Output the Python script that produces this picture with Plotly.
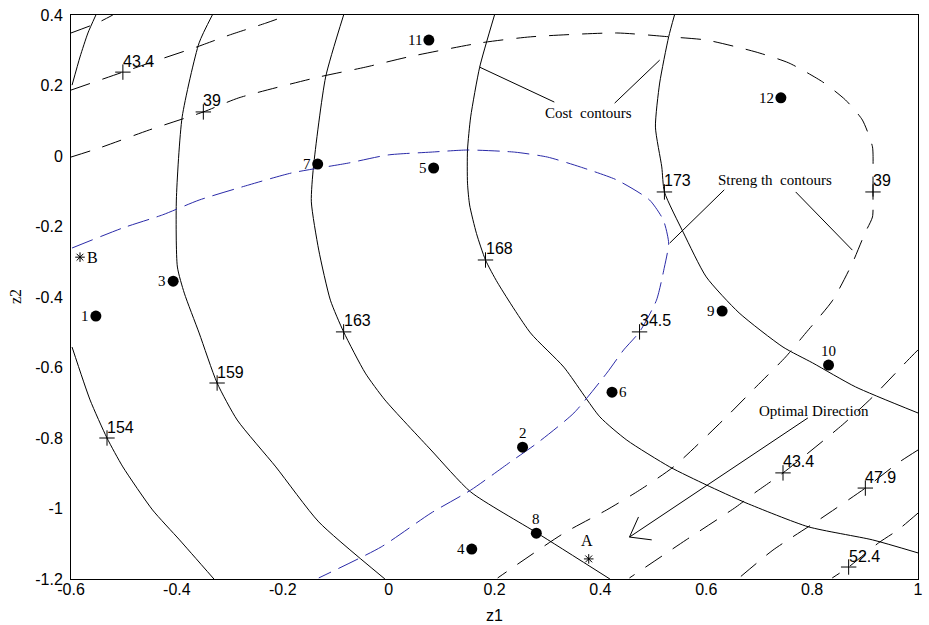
import plotly.graph_objects as go

# ---- cost contours (solid) ----
cost_top_x = [-0.598, -0.583, -0.568, -0.553]
cost_top_y = [0.201, 0.281, 0.349, 0.400]

cost_154_x = [-0.598, -0.564, -0.532, -0.502, -0.446, -0.395, -0.330]
cost_154_y = [-0.542, -0.692, -0.800, -0.882, -1.004, -1.089, -1.200]

cost_159_x = [-0.333, -0.358, -0.390, -0.401, -0.399, -0.386, -0.358, -0.324, -0.286, -0.213, -0.132, -0.007]
cost_159_y = [0.400, 0.321, 0.111, -0.125, -0.315, -0.389, -0.502, -0.644, -0.749, -0.882, -1.038, -1.200]

cost_163_x = [-0.085, -0.119, -0.142, -0.146, -0.132, -0.110, -0.085, -0.044, -0.007, 0.080, 0.155, 0.281, 0.418]
cost_163_y = [0.400, 0.224, -0.031, -0.130, -0.267, -0.409, -0.499, -0.616, -0.692, -0.834, -0.953, -1.070, -1.200]

cost_168_x = [0.200, 0.172, 0.155, 0.149, 0.149, 0.153, 0.166, 0.183, 0.206, 0.268, 0.331, 0.399, 0.450,
              0.531, 0.600, 0.675, 0.793, 0.914, 1.000]
cost_168_y = [0.400, 0.252, 0.111, 0.017, -0.077, -0.139, -0.220, -0.295, -0.360, -0.502, -0.599, -0.740, -0.806,
              -0.882, -0.933, -0.984, -1.052, -1.089, -1.126]

cost_173_x = [0.540, 0.529, 0.512, 0.504, 0.516, 0.521, 0.557, 0.600, 0.662, 0.745, 0.801, 0.882, 1.000]
cost_173_y = [0.400, 0.338, 0.207, 0.082, -0.031, -0.102, -0.218, -0.343, -0.445, -0.542, -0.587, -0.655, -0.729]

# ---- strength contours (dashed) ----
str_479a_x = [-0.600, -0.551, -0.521]
str_479a_y = [0.349, 0.377, 0.400]

str_434a_x = [-0.600, -0.502, -0.446, -0.363, -0.301, -0.232, -0.189]
str_434a_y = [0.187, 0.238, 0.267, 0.309, 0.343, 0.377, 0.400]

str_39_x = [-0.600, -0.546, -0.452, -0.350, -0.283, -0.132, -0.044, 0.037, 0.174, 0.268, 0.431, 0.531,
            0.600, 0.694, 0.756, 0.820, 0.863, 0.895, 0.914, 0.915, 0.915, 0.914, 0.900, 0.876, 0.839,
            0.788, 0.750, 0.694, 0.632, 0.538, 0.474, 0.412, 0.331, 0.206]
str_39_y = [-0.003, 0.023, 0.074, 0.125, 0.165, 0.224, 0.252, 0.281, 0.321, 0.338, 0.349, 0.338,
            0.329, 0.295, 0.264, 0.210, 0.159, 0.102, 0.026, -0.048, -0.102, -0.173, -0.218, -0.304, -0.409,
            -0.502, -0.570, -0.655, -0.749, -0.882, -0.948, -1.004, -1.070, -1.197]

str_345_x = [-0.598, -0.502, -0.427, -0.358, -0.264, -0.183, -0.076, -0.001, 0.080, 0.149, 0.238, 0.300,
             0.362, 0.431, 0.493, 0.519, 0.529, 0.521, 0.506, 0.474, 0.444, 0.412, 0.350, 0.281, 0.230,
             0.155, 0.080, -0.014, -0.132]
str_345_y = [-0.261, -0.204, -0.167, -0.125, -0.082, -0.048, -0.020, 0.003, 0.011, 0.017, 0.011, -0.003,
             -0.031, -0.068, -0.125, -0.182, -0.247, -0.315, -0.409, -0.499, -0.550, -0.616, -0.729, -0.814, -0.868,
             -0.948, -1.013, -1.109, -1.197]

str_434b_x = [1.000, 0.981, 0.914, 0.857, 0.745, 0.694, 0.656, 0.562, 0.455]
str_434b_y = [-0.550, -0.579, -0.684, -0.763, -0.899, -0.953, -0.996, -1.089, -1.197]

str_479b_x = [1.000, 0.962, 0.9005, 0.812, 0.726, 0.662]
str_479b_y = [-0.834, -0.871, -0.942, -1.033, -1.118, -1.197]

str_524_x = [1.000, 0.962, 0.925, 0.869, 0.838]
str_524_y = [-1.013, -1.061, -1.098, -1.166, -1.197]

# ---- contour level labels ----
lvl_text = ["43.4", "39", "154", "159", "163", "168", "173", "39", "34.5", "43.4", "47.9", "52.4"]
lvl_x = [-0.502, -0.350, -0.532, -0.324, -0.085, 0.183, 0.521, 0.915, 0.474, 0.745, 0.9005, 0.869]
lvl_y = [0.238, 0.125, -0.800, -0.644, -0.499, -0.295, -0.102, -0.102, -0.499, -0.899, -0.942, -1.166]

# ---- design points ----
pt_label = ["1", "2", "3", "4", "5", "6", "7", "8", "9", "10", "11", "12"]
pt_x = [-0.553, 0.253, -0.407, 0.157, 0.085, 0.422, -0.134, 0.279, 0.630, 0.831, 0.076, 0.741]
pt_y = [-0.454, -0.826, -0.355, -1.115, -0.034, -0.670, -0.023, -1.070, -0.440, -0.593, 0.329, 0.165]
pt_side = ["left", "top", "left", "left", "left", "right", "left", "top", "left", "top", "left", "left"]

star_label = ["A", "B"]
star_x = [0.378, -0.583]
star_y = [-1.143, -0.287]

# ---- callouts ----
cost_lead1_x, cost_lead1_y = [0.172, 0.313], [0.252, 0.153]
cost_lead2_x, cost_lead2_y = [0.427, 0.512], [0.150, 0.272]
str_lead1_x, str_lead1_y = [0.634, 0.531], [-0.096, -0.247]
str_lead2_x, str_lead2_y = [0.769, 0.876], [-0.102, -0.267]
arrow_x = [0.792, 0.455]
arrow_y = [-0.743, -1.081]
head_x = [0.472, 0.455, 0.497]
head_y = [-1.024, -1.081, -1.089]

callout_text = ["Cost  contours", "Streng th  contours", "Optimal Direction"]
callout_x = [0.378, 0.730, 0.803]
callout_y = [0.122, -0.068, -0.723]

x_ticks = [-0.6, -0.4, -0.2, 0, 0.2, 0.4, 0.6, 0.8, 1.0]
x_ticktext = ["-0.6", "-0.4", "-0.2", "0", "0.2", "0.4", "0.6", "0.8", "1"]
y_ticks = [0.4, 0.2, 0, -0.2, -0.4, -0.6, -0.8, -1.0, -1.2]
y_ticktext = ["0.4", "0.2", "0", "-0.2", "-0.4", "-0.6", "-0.8", "-1", "-1.2"]

SANS = "Liberation Sans, Arial, sans-serif"
SERIF = "Liberation Serif, Times New Roman, serif"
BLACK_DASH = "20px,13px"
BLUE_DASH = "22px,8px"

fig = go.Figure()


def curve(xs, ys, color="black", dash="solid", shape="spline"):
    line = dict(color=color, width=1, dash=dash, shape=shape)
    if shape == "spline":
        line["smoothing"] = 0.6
    fig.add_trace(go.Scatter(x=xs, y=ys, mode="lines", line=line,
                             hoverinfo="skip", showlegend=False))


for xs, ys in [(cost_top_x, cost_top_y), (cost_154_x, cost_154_y), (cost_159_x, cost_159_y),
               (cost_163_x, cost_163_y), (cost_168_x, cost_168_y), (cost_173_x, cost_173_y)]:
    curve(xs, ys)

for xs, ys in [(str_479a_x, str_479a_y), (str_434a_x, str_434a_y), (str_39_x, str_39_y),
               (str_434b_x, str_434b_y), (str_479b_x, str_479b_y), (str_524_x, str_524_y)]:
    curve(xs, ys, dash=BLACK_DASH)

curve(str_345_x, str_345_y, color="#2a2aa8", dash=BLUE_DASH)

# callout leaders and the direction arrow
for xs, ys in [(cost_lead1_x, cost_lead1_y), (cost_lead2_x, cost_lead2_y),
               (str_lead1_x, str_lead1_y), (str_lead2_x, str_lead2_y),
               (arrow_x, arrow_y), (head_x, head_y)]:
    curve(xs, ys, shape="linear")

# "+" ticks where level values are written
fig.add_trace(go.Scatter(
    x=lvl_x, y=lvl_y, mode="markers",
    marker=dict(symbol="cross-thin-open", size=11, color="black", line=dict(color="black", width=1)),
    hoverinfo="skip", showlegend=False))

# design points
fig.add_trace(go.Scatter(
    x=pt_x, y=pt_y, mode="markers", marker=dict(symbol="circle", size=11, color="black"),
    hoverinfo="skip", showlegend=False))

# A / B points
fig.add_trace(go.Scatter(
    x=star_x, y=star_y, mode="markers",
    marker=dict(symbol="asterisk-open", size=8, color="black", line=dict(color="black", width=1)),
    hoverinfo="skip", showlegend=False))

ann = []
for t, x, y in zip(lvl_text, lvl_x, lvl_y):
    ann.append(dict(x=x, y=y, text=t, showarrow=False, xanchor="left", yanchor="middle",
                    xshift=-2, yshift=11, font=dict(family=SANS, size=16, color="black")))

for t, x, y, side in zip(pt_label, pt_x, pt_y, pt_side):
    a = dict(x=x, y=y, text=t, showarrow=False, font=dict(family=SERIF, size=15, color="black"))
    if side == "left":
        a.update(xanchor="right", yanchor="middle", xshift=-5)
    elif side == "right":
        a.update(xanchor="left", yanchor="middle", xshift=5)
    else:
        a.update(xanchor="center", yanchor="middle", yshift=14)
    ann.append(a)

ann.append(dict(x=star_x[0], y=star_y[0], text=star_label[0], showarrow=False, xanchor="center",
                yanchor="middle", xshift=-2, yshift=18, font=dict(family=SERIF, size=16, color="black")))
ann.append(dict(x=star_x[1], y=star_y[1], text=star_label[1], showarrow=False, xanchor="left",
                yanchor="middle", xshift=5, font=dict(family=SERIF, size=16, color="black")))

for t, x, y in zip(callout_text, callout_x, callout_y):
    ann.append(dict(x=x, y=y, text=t, showarrow=False, xanchor="center", yanchor="middle",
                    font=dict(family=SERIF, size=15, color="black")))

# axis titles
ann.append(dict(x=0.5, y=0, xref="paper", yref="paper", text="z1", showarrow=False,
                xanchor="center", yanchor="middle", yshift=-36,
                font=dict(family=SANS, size=16, color="black")))
ann.append(dict(x=0, y=0.5, xref="paper", yref="paper", text="z2", showarrow=False,
                xanchor="center", yanchor="middle", xshift=-56, textangle=-90,
                font=dict(family=SERIF, size=16, color="black")))

fig.update_layout(
    width=929, height=625,
    margin=dict(l=71, r=6, t=15, b=46),
    paper_bgcolor="white", plot_bgcolor="white",
    annotations=ann,
    xaxis=dict(range=[-0.6, 1.0], tickvals=x_ticks, ticktext=x_ticktext, showgrid=False,
               zeroline=False, showline=True, mirror=True, linecolor="black", linewidth=1,
               ticks="", ticklabelstandoff=-4, tickfont=dict(family=SANS, size=16, color="black")),
    yaxis=dict(range=[-1.2, 0.4], tickvals=y_ticks, ticktext=y_ticktext, showgrid=False,
               zeroline=False, showline=True, mirror=True, linecolor="black", linewidth=1,
               ticks="", ticklabelstandoff=4, tickfont=dict(family=SANS, size=16, color="black")),
)

fig.write_html("out.html")
